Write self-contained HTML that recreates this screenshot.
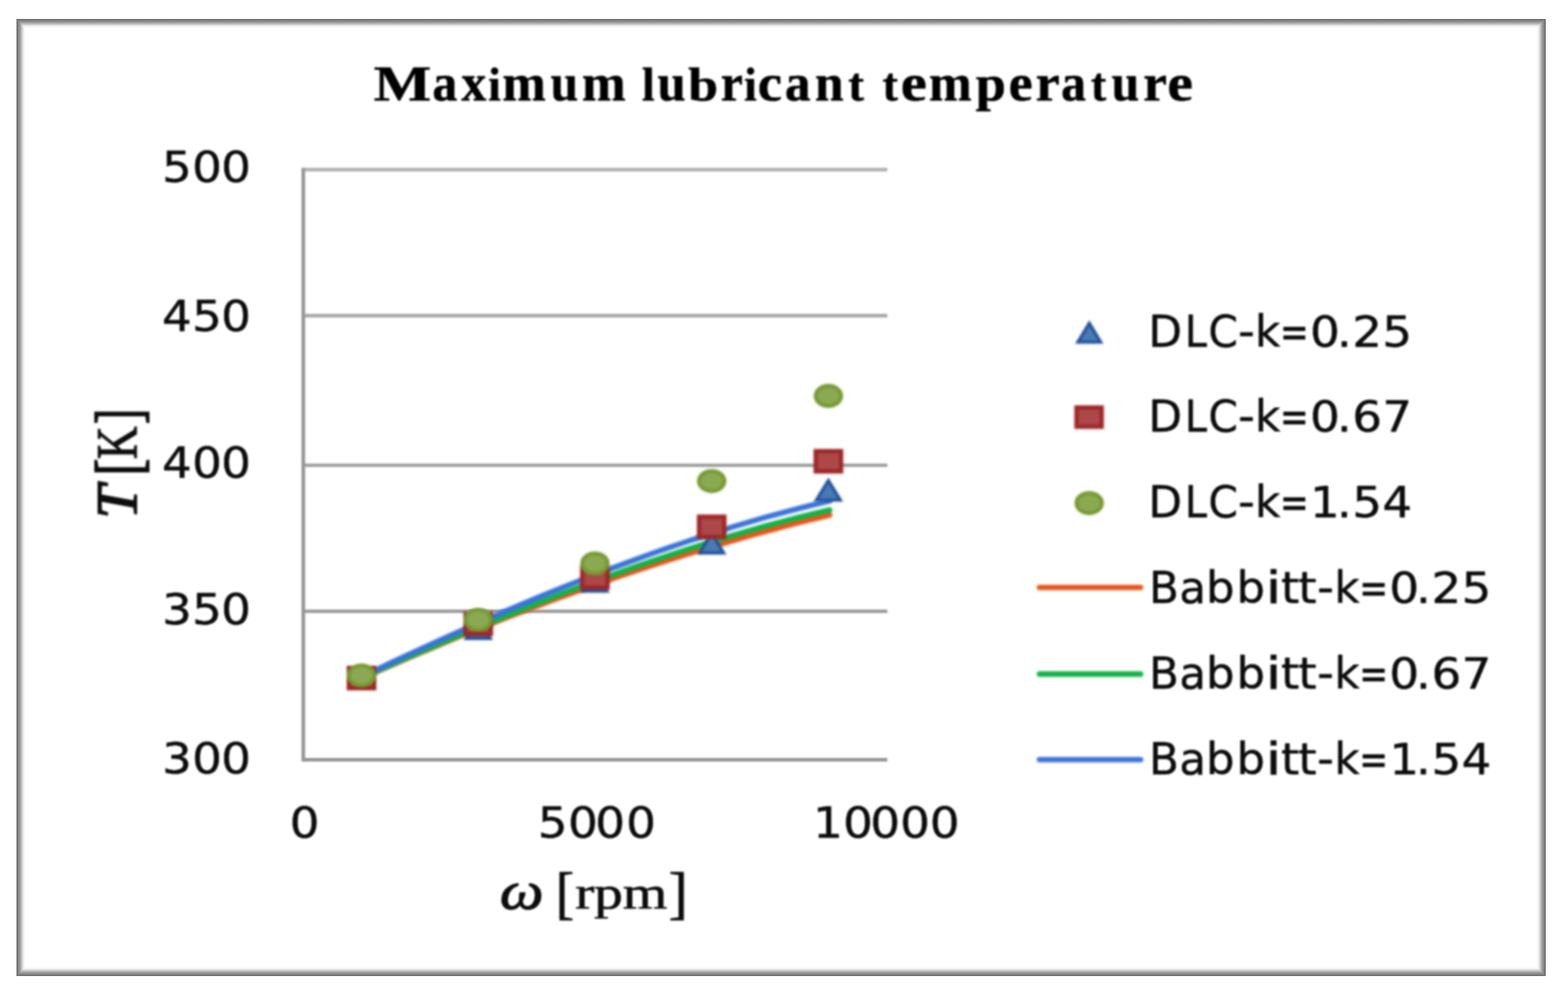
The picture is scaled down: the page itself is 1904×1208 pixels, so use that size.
<!DOCTYPE html>
<html lang="en">
<head>
<meta charset="utf-8">
<title>Maximum lubricant temperature</title>
<style>
html, body { margin: 0; padding: 0; background: #fff; }
body { width: 1904px; height: 1208px; overflow: hidden; position: relative; }
#frame { position: absolute; left: 20px; top: 23px; width: 1857px; height: 1162px; background: #fff; }
#frame { isolation: isolate; }
#frame i { position: absolute; display: block; mix-blend-mode: darken; }
#frame .t { left: 0; top: 0; width: 100%; height: 12px; background: linear-gradient(to bottom, rgb(105,105,105) 0px, rgb(110,110,110) 0.5px, rgb(160,160,160) 4.5px, rgb(236,236,236) 8.5px, rgb(252,252,252) 10.5px, rgb(255,255,255) 12px); }
#frame .b { left: 0; bottom: 0; width: 100%; height: 12px; background: linear-gradient(to top, rgb(105,105,105) 0px, rgb(110,110,110) 0.5px, rgb(160,160,160) 4.5px, rgb(236,236,236) 8.5px, rgb(252,252,252) 10.5px, rgb(255,255,255) 12px); }
#frame .l { left: 0; top: 0; width: 12px; height: 100%; background: linear-gradient(to right, rgb(105,105,105) 0px, rgb(110,110,110) 0.5px, rgb(160,160,160) 4.5px, rgb(236,236,236) 8.5px, rgb(252,252,252) 10.5px, rgb(255,255,255) 12px); }
#frame .r { right: 0; top: 0; width: 12px; height: 100%; background: linear-gradient(to left, rgb(105,105,105) 0px, rgb(110,110,110) 0.5px, rgb(160,160,160) 4.5px, rgb(236,236,236) 8.5px, rgb(252,252,252) 10.5px, rgb(255,255,255) 12px); }
#chart { position: absolute; left: 0; top: 0; width: 1904px; height: 1208px; }
.grid { filter: blur(1.3px); }
.series { filter: blur(1.4px); }
.markers { filter: blur(1.5px); }
.labels { filter: blur(1.0px); }
</style>
</head>
<body>
<div id="frame"><i class="t"></i><i class="b"></i><i class="l"></i><i class="r"></i></div>
<svg id="chart" width="1904" height="1208" viewBox="0 0 1904 1208">
<g class="grid">
<line x1="368.3" y1="206.0" x2="1077.5" y2="206.0" stroke="#b2b2b2" stroke-width="4.4"/>
<line x1="368.3" y1="383.3" x2="1077.5" y2="383.3" stroke="#aaaaaa" stroke-width="4.4"/>
<line x1="368.3" y1="564.9" x2="1077.5" y2="564.9" stroke="#a2a2a2" stroke-width="4.4"/>
<line x1="368.3" y1="742.1" x2="1077.5" y2="742.1" stroke="#9c9c9c" stroke-width="4.4"/>
<line x1="368.3" y1="922.4" x2="1077.5" y2="922.4" stroke="#939393" stroke-width="4.4"/>
<line x1="368.3" y1="203.8" x2="368.3" y2="924.6" stroke="#969696" stroke-width="4.4"/>
</g>
<g class="series">
<path d="M439.0,823.6 L458.6,814.9 L478.2,806.4 L497.8,797.9 L517.4,789.6 L537.0,781.4 L556.6,773.3 L576.2,765.3 L595.8,757.5 L615.4,749.8 L635.0,742.2 L654.6,734.8 L674.2,727.4 L693.8,720.3 L713.4,713.2 L733.1,706.3 L752.7,699.5 L772.3,692.9 L791.9,686.4 L811.5,680.1 L831.1,673.9 L850.7,667.9 L870.3,662.0 L889.9,656.3 L909.5,650.7 L929.1,645.3 L948.7,640.0 L968.3,634.9 L987.9,630.0 L1007.5,625.2" fill="none" stroke="#e8551a" stroke-width="6.6" stroke-linecap="round" stroke-linejoin="round"/>
<path d="M439.0,822.9 L458.6,814.2 L478.2,805.5 L497.8,796.9 L517.4,788.4 L537.0,780.0 L556.6,771.7 L576.2,763.5 L595.8,755.4 L615.4,747.4 L635.0,739.5 L654.6,731.7 L674.2,724.0 L693.8,716.5 L713.4,709.2 L733.1,701.9 L752.7,694.9 L772.3,687.9 L791.9,681.2 L811.5,674.6 L831.1,668.2 L850.7,661.9 L870.3,655.9 L889.9,650.0 L909.5,644.3 L929.1,638.8 L948.7,633.6 L968.3,628.5 L987.9,623.7 L1007.5,619.0" fill="none" stroke="#10b446" stroke-width="6.6" stroke-linecap="round" stroke-linejoin="round"/>
<path d="M439.0,821.7 L458.6,812.4 L478.2,803.1 L497.8,794.0 L517.4,784.9 L537.0,776.0 L556.6,767.2 L576.2,758.5 L595.8,749.9 L615.4,741.4 L635.0,733.1 L654.6,724.9 L674.2,716.9 L693.8,709.0 L713.4,701.2 L733.1,693.7 L752.7,686.3 L772.3,679.1 L791.9,672.0 L811.5,665.2 L831.1,658.5 L850.7,652.0 L870.3,645.8 L889.9,639.7 L909.5,633.9 L929.1,628.2 L948.7,622.9 L968.3,617.7 L987.9,612.8 L1007.5,608.1" fill="none" stroke="#3a73d9" stroke-width="6.6" stroke-linecap="round" stroke-linejoin="round"/>
</g>
<g class="markers">
<polygon points="439.0,810.8 453.7,834.8 424.3,834.8" fill="#4a7ab2" stroke="#1f4f9c" stroke-width="3.6" stroke-linejoin="miter" stroke-miterlimit="10"/>
<polygon points="580.7,751.1 595.4,775.1 566.0,775.1" fill="#4a7ab2" stroke="#1f4f9c" stroke-width="3.6" stroke-linejoin="miter" stroke-miterlimit="10"/>
<polygon points="722.4,693.8 737.1,717.8 707.7,717.8" fill="#4a7ab2" stroke="#1f4f9c" stroke-width="3.6" stroke-linejoin="miter" stroke-miterlimit="10"/>
<polygon points="864.2,647.4 878.9,671.4 849.5,671.4" fill="#4a7ab2" stroke="#1f4f9c" stroke-width="3.6" stroke-linejoin="miter" stroke-miterlimit="10"/>
<polygon points="1005.9,583.3 1020.6,607.3 991.2,607.3" fill="#4a7ab2" stroke="#1f4f9c" stroke-width="3.6" stroke-linejoin="miter" stroke-miterlimit="10"/>
<rect x="423.6" y="810.9" width="30.8" height="24.6" fill="#ac4848" stroke="#9e2626" stroke-width="5.2"/>
<rect x="565.3" y="745.1" width="30.8" height="24.6" fill="#ac4848" stroke="#9e2626" stroke-width="5.2"/>
<rect x="707.0" y="688.7" width="30.8" height="24.6" fill="#ac4848" stroke="#9e2626" stroke-width="5.2"/>
<rect x="848.8" y="627.3" width="30.8" height="24.6" fill="#ac4848" stroke="#9e2626" stroke-width="5.2"/>
<rect x="990.5" y="547.7" width="30.8" height="24.6" fill="#ac4848" stroke="#9e2626" stroke-width="5.2"/>
<ellipse cx="439.0" cy="820.0" rx="15.5" ry="12.3" fill="#8ba852" stroke="#759a30" stroke-width="4.6"/>
<ellipse cx="580.7" cy="752.5" rx="15.5" ry="12.3" fill="#8ba852" stroke="#759a30" stroke-width="4.6"/>
<ellipse cx="722.4" cy="684.0" rx="15.5" ry="12.3" fill="#8ba852" stroke="#759a30" stroke-width="4.6"/>
<ellipse cx="864.2" cy="584.1" rx="15.5" ry="12.3" fill="#8ba852" stroke="#759a30" stroke-width="4.6"/>
<ellipse cx="1005.9" cy="480.7" rx="15.5" ry="12.3" fill="#8ba852" stroke="#759a30" stroke-width="4.6"/>
<polygon points="1322.7,392.2 1336.7,415.5 1308.7,415.5" fill="#4a7ab2" stroke="#1f4f9c" stroke-width="3.6" stroke-linejoin="miter" stroke-miterlimit="10"/>
<rect x="1307.2" y="494.7" width="30.6" height="23.4" fill="#ac4848" stroke="#9e2626" stroke-width="5.2"/>
<ellipse cx="1322.6" cy="610.8" rx="15.5" ry="12.3" fill="#8ba852" stroke="#759a30" stroke-width="4.6"/>
</g>
<g class="series">
<line x1="1262.2" y1="713.2" x2="1385.0" y2="713.2" stroke="#e8551a" stroke-width="6.6" stroke-linecap="round"/>
<line x1="1262.2" y1="818.4" x2="1385.0" y2="818.4" stroke="#10b446" stroke-width="6.6" stroke-linecap="round"/>
<line x1="1262.2" y1="922.2" x2="1385.0" y2="922.2" stroke="#3a73d9" stroke-width="6.6" stroke-linecap="round"/>
</g>
<g class="labels">
<text y="221.00" font-family='"DejaVu Sans", "Liberation Sans", sans-serif' font-size="53.3" fill="#0c0c0c" stroke="#0c0c0c" stroke-width="0.55" stroke-linejoin="round"><tspan x="196.87" textLength="36.25" lengthAdjust="spacingAndGlyphs" font-size="51.8">5</tspan><tspan x="233.19" textLength="36.25" lengthAdjust="spacingAndGlyphs" font-size="51.8">0</tspan><tspan x="268.59" textLength="36.25" lengthAdjust="spacingAndGlyphs" font-size="51.8">0</tspan></text>
<text y="401.60" font-family='"DejaVu Sans", "Liberation Sans", sans-serif' font-size="53.3" fill="#0c0c0c" stroke="#0c0c0c" stroke-width="0.55" stroke-linejoin="round"><tspan x="196.87" textLength="36.25" lengthAdjust="spacingAndGlyphs" font-size="51.8">4</tspan><tspan x="233.19" textLength="36.25" lengthAdjust="spacingAndGlyphs" font-size="51.8">5</tspan><tspan x="268.59" textLength="36.25" lengthAdjust="spacingAndGlyphs" font-size="51.8">0</tspan></text>
<text y="580.40" font-family='"DejaVu Sans", "Liberation Sans", sans-serif' font-size="53.3" fill="#0c0c0c" stroke="#0c0c0c" stroke-width="0.55" stroke-linejoin="round"><tspan x="196.87" textLength="36.25" lengthAdjust="spacingAndGlyphs" font-size="51.8">4</tspan><tspan x="233.19" textLength="36.25" lengthAdjust="spacingAndGlyphs" font-size="51.8">0</tspan><tspan x="268.59" textLength="36.25" lengthAdjust="spacingAndGlyphs" font-size="51.8">0</tspan></text>
<text y="758.30" font-family='"DejaVu Sans", "Liberation Sans", sans-serif' font-size="53.3" fill="#0c0c0c" stroke="#0c0c0c" stroke-width="0.55" stroke-linejoin="round"><tspan x="196.87" textLength="36.25" lengthAdjust="spacingAndGlyphs" font-size="51.8">3</tspan><tspan x="233.19" textLength="36.25" lengthAdjust="spacingAndGlyphs" font-size="51.8">5</tspan><tspan x="268.59" textLength="36.25" lengthAdjust="spacingAndGlyphs" font-size="51.8">0</tspan></text>
<text y="938.90" font-family='"DejaVu Sans", "Liberation Sans", sans-serif' font-size="53.3" fill="#0c0c0c" stroke="#0c0c0c" stroke-width="0.55" stroke-linejoin="round"><tspan x="196.87" textLength="36.25" lengthAdjust="spacingAndGlyphs" font-size="51.8">3</tspan><tspan x="233.19" textLength="36.25" lengthAdjust="spacingAndGlyphs" font-size="51.8">0</tspan><tspan x="268.59" textLength="36.25" lengthAdjust="spacingAndGlyphs" font-size="51.8">0</tspan></text>
<text y="1016.70" font-family='"DejaVu Sans", "Liberation Sans", sans-serif' font-size="53.3" fill="#0c0c0c" stroke="#0c0c0c" stroke-width="0.55" stroke-linejoin="round"><tspan x="351.79" textLength="36.25" lengthAdjust="spacingAndGlyphs" font-size="51.8">0</tspan></text>
<text y="1016.70" font-family='"DejaVu Sans", "Liberation Sans", sans-serif' font-size="53.3" fill="#0c0c0c" stroke="#0c0c0c" stroke-width="0.55" stroke-linejoin="round"><tspan x="652.97" textLength="36.25" lengthAdjust="spacingAndGlyphs" font-size="51.8">5</tspan><tspan x="689.79" textLength="36.25" lengthAdjust="spacingAndGlyphs" font-size="51.8">0</tspan><tspan x="722.79" textLength="36.25" lengthAdjust="spacingAndGlyphs" font-size="51.8">0</tspan><tspan x="760.29" textLength="36.25" lengthAdjust="spacingAndGlyphs" font-size="51.8">0</tspan></text>
<text y="1016.70" font-family='"DejaVu Sans", "Liberation Sans", sans-serif' font-size="53.3" fill="#0c0c0c" stroke="#0c0c0c" stroke-width="0.55" stroke-linejoin="round"><tspan x="987.37" textLength="36.25" lengthAdjust="spacingAndGlyphs" font-size="51.8">1</tspan><tspan x="1023.79" textLength="36.25" lengthAdjust="spacingAndGlyphs" font-size="51.8">0</tspan><tspan x="1056.69" textLength="36.25" lengthAdjust="spacingAndGlyphs" font-size="51.8">0</tspan><tspan x="1093.09" textLength="36.25" lengthAdjust="spacingAndGlyphs" font-size="51.8">0</tspan><tspan x="1129.09" textLength="36.25" lengthAdjust="spacingAndGlyphs" font-size="51.8">0</tspan></text>
<text y="420.50" font-family='"DejaVu Sans", "Liberation Sans", sans-serif' font-size="53.3" fill="#0c0c0c" stroke="#0c0c0c" stroke-width="0.55" stroke-linejoin="round"><tspan x="1394.45" textLength="40.84" lengthAdjust="spacingAndGlyphs">D</tspan><tspan x="1438.74" textLength="26.77" lengthAdjust="spacingAndGlyphs">L</tspan><tspan x="1467.36" textLength="35.87" lengthAdjust="spacingAndGlyphs">C</tspan><tspan x="1503.17" textLength="20.56" lengthAdjust="spacingAndGlyphs">-</tspan><tspan x="1523.94" textLength="30.66" lengthAdjust="spacingAndGlyphs">k</tspan><tspan x="1554.31" textLength="35.07" lengthAdjust="spacingAndGlyphs">=</tspan><tspan x="1590.89" textLength="36.25" lengthAdjust="spacingAndGlyphs" font-size="51.8">0</tspan><tspan x="1623.17" textLength="18.11" lengthAdjust="spacingAndGlyphs" font-size="51.8">.</tspan><tspan x="1642.04" textLength="36.25" lengthAdjust="spacingAndGlyphs" font-size="51.8">2</tspan><tspan x="1678.57" textLength="36.25" lengthAdjust="spacingAndGlyphs" font-size="51.8">5</tspan></text>
<text y="524.30" font-family='"DejaVu Sans", "Liberation Sans", sans-serif' font-size="53.3" fill="#0c0c0c" stroke="#0c0c0c" stroke-width="0.55" stroke-linejoin="round"><tspan x="1394.45" textLength="40.84" lengthAdjust="spacingAndGlyphs">D</tspan><tspan x="1438.74" textLength="26.77" lengthAdjust="spacingAndGlyphs">L</tspan><tspan x="1467.36" textLength="35.87" lengthAdjust="spacingAndGlyphs">C</tspan><tspan x="1503.17" textLength="20.56" lengthAdjust="spacingAndGlyphs">-</tspan><tspan x="1523.94" textLength="30.66" lengthAdjust="spacingAndGlyphs">k</tspan><tspan x="1554.31" textLength="35.07" lengthAdjust="spacingAndGlyphs">=</tspan><tspan x="1590.89" textLength="36.25" lengthAdjust="spacingAndGlyphs" font-size="51.8">0</tspan><tspan x="1623.17" textLength="18.11" lengthAdjust="spacingAndGlyphs" font-size="51.8">.</tspan><tspan x="1642.04" textLength="36.25" lengthAdjust="spacingAndGlyphs" font-size="51.8">6</tspan><tspan x="1678.57" textLength="36.25" lengthAdjust="spacingAndGlyphs" font-size="51.8">7</tspan></text>
<text y="628.10" font-family='"DejaVu Sans", "Liberation Sans", sans-serif' font-size="53.3" fill="#0c0c0c" stroke="#0c0c0c" stroke-width="0.55" stroke-linejoin="round"><tspan x="1394.45" textLength="40.84" lengthAdjust="spacingAndGlyphs">D</tspan><tspan x="1438.74" textLength="26.77" lengthAdjust="spacingAndGlyphs">L</tspan><tspan x="1467.36" textLength="35.87" lengthAdjust="spacingAndGlyphs">C</tspan><tspan x="1503.17" textLength="20.56" lengthAdjust="spacingAndGlyphs">-</tspan><tspan x="1523.94" textLength="30.66" lengthAdjust="spacingAndGlyphs">k</tspan><tspan x="1554.31" textLength="35.07" lengthAdjust="spacingAndGlyphs">=</tspan><tspan x="1590.89" textLength="36.25" lengthAdjust="spacingAndGlyphs" font-size="51.8">1</tspan><tspan x="1623.17" textLength="18.11" lengthAdjust="spacingAndGlyphs" font-size="51.8">.</tspan><tspan x="1642.04" textLength="36.25" lengthAdjust="spacingAndGlyphs" font-size="51.8">5</tspan><tspan x="1678.57" textLength="36.25" lengthAdjust="spacingAndGlyphs" font-size="51.8">4</tspan></text>
<text y="731.90" font-family='"DejaVu Sans", "Liberation Sans", sans-serif' font-size="53.3" fill="#0c0c0c" stroke="#0c0c0c" stroke-width="0.55" stroke-linejoin="round"><tspan x="1395.35" textLength="36.35" lengthAdjust="spacingAndGlyphs">B</tspan><tspan x="1432.06" textLength="32.50" lengthAdjust="spacingAndGlyphs">a</tspan><tspan x="1464.36" textLength="34.90" lengthAdjust="spacingAndGlyphs">b</tspan><tspan x="1501.26" textLength="34.90" lengthAdjust="spacingAndGlyphs">b</tspan><tspan x="1536.33" textLength="20.39" lengthAdjust="spacingAndGlyphs">i</tspan><tspan x="1555.63" textLength="22.17" lengthAdjust="spacingAndGlyphs">t</tspan><tspan x="1576.43" textLength="22.17" lengthAdjust="spacingAndGlyphs">t</tspan><tspan x="1599.37" textLength="20.56" lengthAdjust="spacingAndGlyphs">-</tspan><tspan x="1620.14" textLength="30.66" lengthAdjust="spacingAndGlyphs">k</tspan><tspan x="1650.51" textLength="35.07" lengthAdjust="spacingAndGlyphs">=</tspan><tspan x="1687.09" textLength="36.25" lengthAdjust="spacingAndGlyphs" font-size="51.8">0</tspan><tspan x="1719.37" textLength="18.11" lengthAdjust="spacingAndGlyphs" font-size="51.8">.</tspan><tspan x="1738.24" textLength="36.25" lengthAdjust="spacingAndGlyphs" font-size="51.8">2</tspan><tspan x="1774.77" textLength="36.25" lengthAdjust="spacingAndGlyphs" font-size="51.8">5</tspan></text>
<text y="835.70" font-family='"DejaVu Sans", "Liberation Sans", sans-serif' font-size="53.3" fill="#0c0c0c" stroke="#0c0c0c" stroke-width="0.55" stroke-linejoin="round"><tspan x="1395.35" textLength="36.35" lengthAdjust="spacingAndGlyphs">B</tspan><tspan x="1432.06" textLength="32.50" lengthAdjust="spacingAndGlyphs">a</tspan><tspan x="1464.36" textLength="34.90" lengthAdjust="spacingAndGlyphs">b</tspan><tspan x="1501.26" textLength="34.90" lengthAdjust="spacingAndGlyphs">b</tspan><tspan x="1536.33" textLength="20.39" lengthAdjust="spacingAndGlyphs">i</tspan><tspan x="1555.63" textLength="22.17" lengthAdjust="spacingAndGlyphs">t</tspan><tspan x="1576.43" textLength="22.17" lengthAdjust="spacingAndGlyphs">t</tspan><tspan x="1599.37" textLength="20.56" lengthAdjust="spacingAndGlyphs">-</tspan><tspan x="1620.14" textLength="30.66" lengthAdjust="spacingAndGlyphs">k</tspan><tspan x="1650.51" textLength="35.07" lengthAdjust="spacingAndGlyphs">=</tspan><tspan x="1687.09" textLength="36.25" lengthAdjust="spacingAndGlyphs" font-size="51.8">0</tspan><tspan x="1719.37" textLength="18.11" lengthAdjust="spacingAndGlyphs" font-size="51.8">.</tspan><tspan x="1738.24" textLength="36.25" lengthAdjust="spacingAndGlyphs" font-size="51.8">6</tspan><tspan x="1774.77" textLength="36.25" lengthAdjust="spacingAndGlyphs" font-size="51.8">7</tspan></text>
<text y="939.50" font-family='"DejaVu Sans", "Liberation Sans", sans-serif' font-size="53.3" fill="#0c0c0c" stroke="#0c0c0c" stroke-width="0.55" stroke-linejoin="round"><tspan x="1395.35" textLength="36.35" lengthAdjust="spacingAndGlyphs">B</tspan><tspan x="1432.06" textLength="32.50" lengthAdjust="spacingAndGlyphs">a</tspan><tspan x="1464.36" textLength="34.90" lengthAdjust="spacingAndGlyphs">b</tspan><tspan x="1501.26" textLength="34.90" lengthAdjust="spacingAndGlyphs">b</tspan><tspan x="1536.33" textLength="20.39" lengthAdjust="spacingAndGlyphs">i</tspan><tspan x="1555.63" textLength="22.17" lengthAdjust="spacingAndGlyphs">t</tspan><tspan x="1576.43" textLength="22.17" lengthAdjust="spacingAndGlyphs">t</tspan><tspan x="1599.37" textLength="20.56" lengthAdjust="spacingAndGlyphs">-</tspan><tspan x="1620.14" textLength="30.66" lengthAdjust="spacingAndGlyphs">k</tspan><tspan x="1650.51" textLength="35.07" lengthAdjust="spacingAndGlyphs">=</tspan><tspan x="1687.09" textLength="36.25" lengthAdjust="spacingAndGlyphs" font-size="51.8">1</tspan><tspan x="1719.37" textLength="18.11" lengthAdjust="spacingAndGlyphs" font-size="51.8">.</tspan><tspan x="1738.24" textLength="36.25" lengthAdjust="spacingAndGlyphs" font-size="51.8">5</tspan><tspan x="1774.77" textLength="36.25" lengthAdjust="spacingAndGlyphs" font-size="51.8">4</tspan></text>
<text y="121.5" font-family='"Liberation Serif", "DejaVu Serif", serif' font-size="61" font-weight="bold" fill="#000" stroke="#000" stroke-width="0.6" stroke-linejoin="round"><tspan x="453.73" textLength="70.00" lengthAdjust="spacingAndGlyphs">M</tspan><tspan x="525.11" textLength="30.24" lengthAdjust="spacingAndGlyphs" font-size="63.0">a</tspan><tspan x="560.28" textLength="30.24" lengthAdjust="spacingAndGlyphs" font-size="63.0">x</tspan><tspan x="592.81" textLength="15.47" lengthAdjust="spacingAndGlyphs" font-size="58.0">i</tspan><tspan x="610.09" textLength="52.89" lengthAdjust="spacingAndGlyphs" font-size="63.0">m</tspan><tspan x="668.59" textLength="33.64" lengthAdjust="spacingAndGlyphs" font-size="63.0">u</tspan><tspan x="706.47" textLength="53.42" lengthAdjust="spacingAndGlyphs" font-size="63.0">m</tspan> <tspan x="779.40" textLength="15.47" lengthAdjust="spacingAndGlyphs" font-size="58.0">l</tspan><tspan x="798.27" textLength="34.40" lengthAdjust="spacingAndGlyphs" font-size="63.0">u</tspan><tspan x="835.87" textLength="36.17" lengthAdjust="spacingAndGlyphs" font-size="58.0">b</tspan><tspan x="875.21" textLength="26.84" lengthAdjust="spacingAndGlyphs" font-size="63.0">r</tspan><tspan x="903.56" textLength="15.47" lengthAdjust="spacingAndGlyphs" font-size="58.0">i</tspan><tspan x="920.12" textLength="29.53" lengthAdjust="spacingAndGlyphs" font-size="63.0">c</tspan><tspan x="952.99" textLength="31.15" lengthAdjust="spacingAndGlyphs" font-size="63.0">a</tspan><tspan x="989.41" textLength="34.95" lengthAdjust="spacingAndGlyphs" font-size="63.0">n</tspan><tspan x="1029.97" textLength="19.18" lengthAdjust="spacingAndGlyphs" font-size="58.0">t</tspan> <tspan x="1071.85" textLength="18.54" lengthAdjust="spacingAndGlyphs" font-size="58.0">t</tspan><tspan x="1093.86" textLength="31.68" lengthAdjust="spacingAndGlyphs" font-size="63.0">e</tspan><tspan x="1128.12" textLength="51.94" lengthAdjust="spacingAndGlyphs" font-size="63.0">m</tspan><tspan x="1184.76" textLength="36.72" lengthAdjust="spacingAndGlyphs">p</tspan><tspan x="1224.85" textLength="29.14" lengthAdjust="spacingAndGlyphs" font-size="63.0">e</tspan><tspan x="1257.53" textLength="29.18" lengthAdjust="spacingAndGlyphs" font-size="63.0">r</tspan><tspan x="1288.41" textLength="30.24" lengthAdjust="spacingAndGlyphs" font-size="63.0">a</tspan><tspan x="1324.65" textLength="18.54" lengthAdjust="spacingAndGlyphs" font-size="58.0">t</tspan><tspan x="1349.64" textLength="33.64" lengthAdjust="spacingAndGlyphs" font-size="63.0">u</tspan><tspan x="1388.16" textLength="28.73" lengthAdjust="spacingAndGlyphs" font-size="63.0">r</tspan><tspan x="1417.40" textLength="31.11" lengthAdjust="spacingAndGlyphs" font-size="63.0">e</tspan></text>
<text transform="scale(1.25 1)" font-family='"Liberation Serif", "DejaVu Serif", serif' font-size="56.0" fill="#0c0c0c"><tspan x="485.53" y="1103.10" textLength="42.40" lengthAdjust="spacingAndGlyphs" font-size="65" font-style="italic" stroke="#0c0c0c" stroke-width="1.3" stroke-linejoin="round">ω</tspan> <tspan x="540.08" y="1108.40" textLength="17.58" lengthAdjust="spacingAndGlyphs" font-size="69.0" stroke="#0c0c0c" stroke-width="1.1">[</tspan><tspan x="558.73" y="1102.80" textLength="89.66" lengthAdjust="spacingAndGlyphs" stroke="#0c0c0c" stroke-width="0.7">rpm</tspan><tspan x="649.60" y="1108.40" textLength="18.42" lengthAdjust="spacingAndGlyphs" font-size="69.0" stroke="#0c0c0c" stroke-width="1.1">]</tspan></text>
<text transform="translate(165.0 625.5) rotate(-90) scale(1 1.25)" font-family='"Liberation Serif", "DejaVu Serif", serif' font-size="55.6" fill="#0c0c0c"><tspan x="-4.27" y="0.00" textLength="40.57" lengthAdjust="spacingAndGlyphs" font-style="italic" stroke="#0c0c0c" stroke-width="1.5">T</tspan><tspan x="48.27" y="4.30" textLength="20.34" lengthAdjust="spacingAndGlyphs" font-size="62.8" stroke="#0c0c0c" stroke-width="1.6">[</tspan><tspan x="68.01" y="0.00" textLength="39.75" lengthAdjust="spacingAndGlyphs" stroke="#0c0c0c" stroke-width="1.0">K</tspan><tspan x="110.81" y="4.30" textLength="18.39" lengthAdjust="spacingAndGlyphs" font-size="62.8" stroke="#0c0c0c" stroke-width="1.6">]</tspan></text>
</g>
</svg>
</body>
</html>
